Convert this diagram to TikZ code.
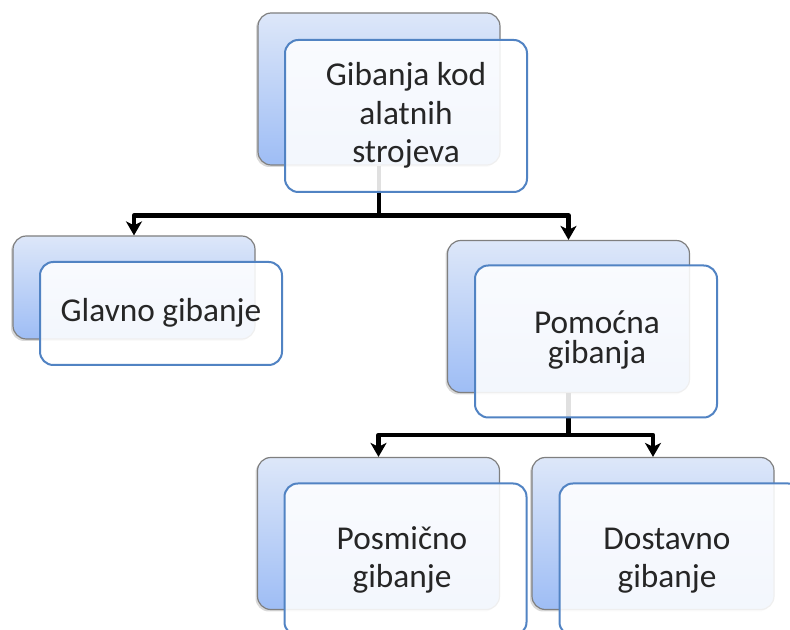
\documentclass[tikz,border=0pt]{standalone}
\usepackage{fontspec}
\setmainfont{Carlito}
\usepackage{xcolor}
\usetikzlibrary{positioning,arrows.meta,shadows}
\definecolor{boxtop}{HTML}{DDE7F9}
\definecolor{boxbottom}{HTML}{9EBDF5}
\definecolor{boxline}{HTML}{5183C3}
\definecolor{backline}{HTML}{7F7F7F}

\begin{document}
\begin{tikzpicture}[x=0.75pt, y=-0.75pt,
                    backbox/.style = {draw=backline, line width=0.9pt, rounded corners=10pt,
                                      top color=boxtop, bottom color=boxbottom,
                                      minimum width=181.5pt, minimum height=114pt,
                                      drop shadow={shadow xshift=-1.5pt, shadow yshift=-1.5pt, opacity=0.3}},
                    frontbox/.style = {draw=boxline, line width=1.5pt, rounded corners=10pt,
                                       fill=white, fill opacity=0.88,
                                       minimum width=181.5pt, minimum height=114pt},
                    boxtext/.style = {align=center, text=black!85, font=\fontsize{25}{28.5}\selectfont},
                    link/.style = {line width=3.4pt, line join=round,
                                   -{Stealth[length=10.5pt,width=12pt,inset=3pt]}}]
                \path[use as bounding box, clip] (0,0) rectangle (790,630);
                \node[backbox] (topb) at (379,89) {};
                \node[backbox, minimum height=77.25pt] (glb) at (134,287.5) {};
                \node[backbox] (pomb) at (568.5,316.5) {};
                \node[backbox] (posb) at (378.5,533.5) {};
                \node[backbox] (dosb) at (653,533.5) {};
                \coordinate (j1) at (379,215.5);
                \coordinate (j2) at (568.5,435);
                \draw[link] (topb.south) -- (j1) -| (glb.north);
                \draw[link] (j1) -| (pomb.north);
                \draw[link] (pomb.south) -- (j2) -| (posb.north);
                \draw[link] (j2) -| (dosb.north);
                \node[frontbox] (topf) at (406,116) {};
                \node[frontbox, minimum height=77.25pt] (glf) at (161,313.5) {};
                \node[frontbox] (pomf) at (596,341.5) {};
                \node[frontbox] (posf) at (405.5,559.5) {};
                \node[frontbox] (dosf) at (680.5,559.5) {};
                \node[boxtext, font=\fontsize{25}{29}\selectfont] (toptext) at (406,115.5) {Gibanja kod\\alatnih\\strojeva};
                \node[boxtext] (gltext) at (161,313) {Glavno gibanje};
                \node[boxtext, font=\fontsize{25}{23}\selectfont] (pomtext) at (597,340) {Pomoćna\\gibanja};
                \node[boxtext] (postext) at (402,559.5) {Posmično\\gibanje};
                \node[boxtext] (dostext) at (667,561) {Dostavno\\gibanje};
\end{tikzpicture}
\end{document}
